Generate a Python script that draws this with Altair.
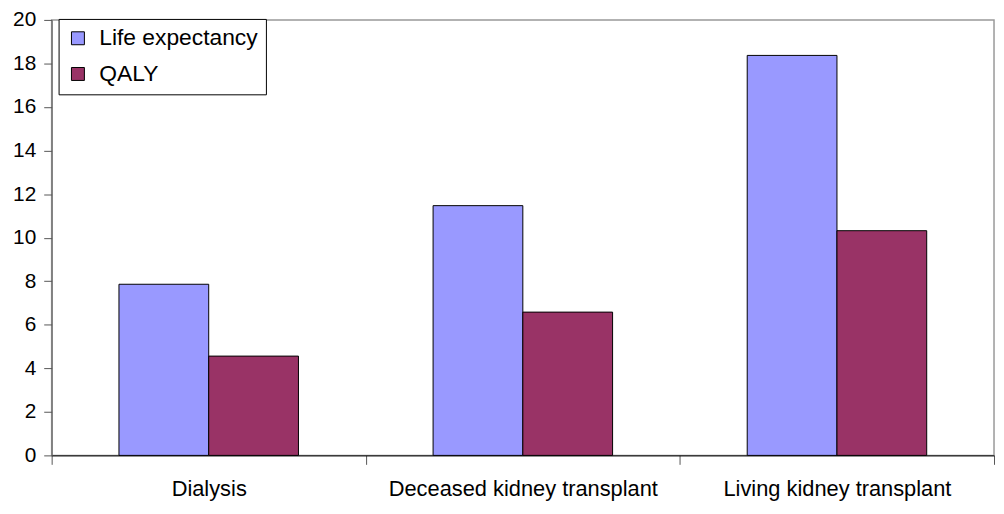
import altair as alt
import pandas as pd

categories = ["Dialysis", "Deceased kidney transplant", "Living kidney transplant"]
series = ["Life expectancy", "QALY"]
life_expectancy = [7.86, 11.47, 18.37]
qaly = [4.56, 6.58, 10.32]
colors = ["#9999FF", "#993366"]

rows = []
for c, le, q in zip(categories, life_expectancy, qaly):
    rows.append({"category": c, "series": series[0], "value": le})
    rows.append({"category": c, "series": series[1], "value": q})
df = pd.DataFrame(rows)

font = "Liberation Sans"

chart = alt.Chart(df).mark_bar(stroke="black", strokeWidth=1).encode(
    x=alt.X("category:N", sort=categories, title=None,
            scale=alt.Scale(paddingInner=0, paddingOuter=0),
            axis=alt.Axis(labelAngle=0, tickBand="extent", tickSize=9,
                          tickColor="#555555", domainColor="black",
                          labelFont=font, labelFontSize=22, labelColor="black",
                          labelPadding=14, labelLimit=400)),
    xOffset=alt.XOffset("series:N", sort=series,
                        scale=alt.Scale(paddingInner=0, paddingOuter=0.75)),
    y=alt.Y("value:Q", title=None,
            scale=alt.Scale(domain=[0, 20], nice=False),
            axis=alt.Axis(values=list(range(0, 21, 2)), grid=False, tickSize=8,
                          tickColor="#555555", domainColor="#555555",
                          labelFont=font, labelFontSize=21, labelColor="black",
                          labelPadding=8)),
    color=alt.Color("series:N", sort=series,
                    scale=alt.Scale(domain=series, range=colors),
                    legend=alt.Legend(title=None, orient="none", legendX=7, legendY=-1,
                                      symbolType="square", symbolSize=170,
                                      symbolStrokeColor="black", symbolStrokeWidth=1,
                                      labelFont=font, labelFontSize=23, labelColor="black",
                                      labelOffset=10,
                                      rowPadding=12, padding=8,
                                      strokeColor="black", fillColor="white",
                                      labelLimit=300)),
).properties(
    width=950, height=439,
    autosize=alt.AutoSizeParams(type="none"),
    padding={"left": 44, "top": 10, "right": 2, "bottom": 49},
).configure_view(stroke="#999999", strokeWidth=1.5)

chart.save("out.html", embed_options={"renderer": "svg", "actions": False})
